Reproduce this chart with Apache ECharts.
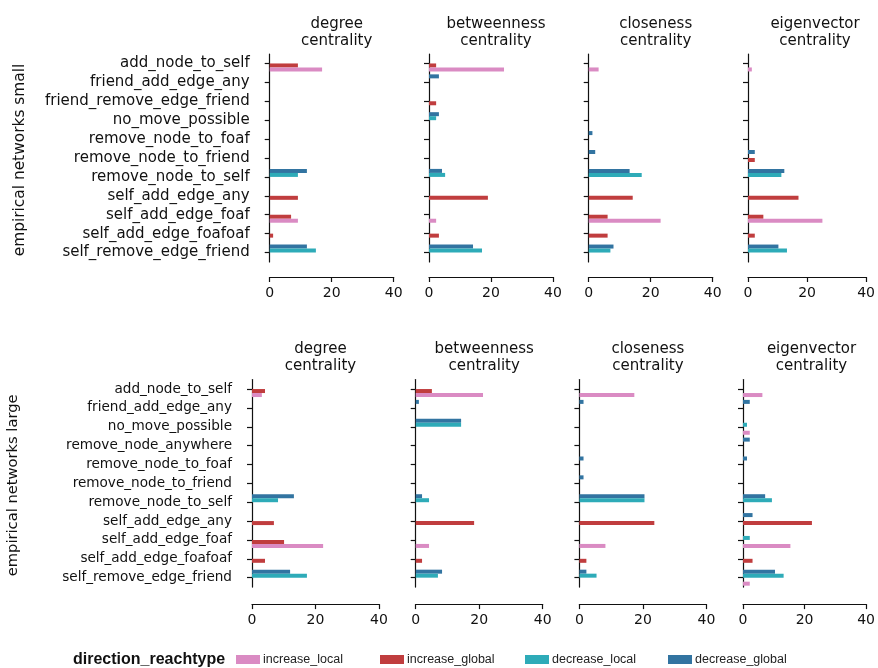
<!DOCTYPE html>
<html>
<head>
<meta charset="utf-8">
<script src="https://cdn.jsdelivr.net/npm/echarts@6/dist/echarts.min.js"></script>
<style>
  html, body { margin: 0; padding: 0; background: #fff; }
  #chart { width: 878px; height: 668px; }
</style>
</head>
<body>
<div id="chart"></div>
<script>
const measures = ["degree\ncentrality", "betweenness\ncentrality", "closeness\ncentrality", "eigenvector\ncentrality"];
const directions = ["increase_local", "increase_global", "decrease_local", "decrease_global"];
const colors = ["#da8bc3", "#c03d3e", "#2eabb8", "#3274a1"];
const xTicks = [0, 20, 40];

const catsSmall = ["add_node_to_self", "friend_add_edge_any", "friend_remove_edge_friend", "no_move_possible",
  "remove_node_to_foaf", "remove_node_to_friend", "remove_node_to_self", "self_add_edge_any",
  "self_add_edge_foaf", "self_add_edge_foafoaf", "self_remove_edge_friend"];
const catsLarge = ["add_node_to_self", "friend_add_edge_any", "no_move_possible", "remove_node_anywhere",
  "remove_node_to_foaf", "remove_node_to_friend", "remove_node_to_self", "self_add_edge_any",
  "self_add_edge_foaf", "self_add_edge_foafoaf", "self_remove_edge_friend"];

// one inner list per measure (degree, betweenness, closeness, eigenvector)
const smallIncLocal = [
  [16.9, 0, 0, 0, 0, 0, 0, 0, 9.1, 0, 0],
  [24.2, 0, 0, 0, 0, 0, 0, 0, 2.3, 0, 0],
  [3.2, 0, 0, 0, 0, 0, 0, 0, 23.2, 0, 0],
  [1.3, 0, 0, 0, 0, 0, 0, 0, 25.2, 0, 0]
];
const smallIncGlobal = [
  [9.1, 0, 0, 0, 0, 0, 0, 9.1, 6.9, 1.1, 0],
  [2.3, 0, 2.3, 0, 0, 0, 0, 19.0, 0, 3.2, 0],
  [0, 0, 0, 0, 0, 0, 0, 14.2, 6.1, 6.1, 0],
  [0, 0, 0, 0, 0, 2.3, 0, 17.1, 5.2, 2.3, 0]
];
const smallDecLocal = [
  [0, 0, 0, 0, 0, 0, 9.1, 0, 0, 0, 14.9],
  [0, 0, 0, 2.3, 0, 0, 5.2, 0, 0, 0, 17.1],
  [0, 0, 0, 0, 0, 0, 17.1, 0, 0, 0, 7.0],
  [0, 0, 0, 0, 0, 0, 11.3, 0, 0, 0, 13.2]
];
const smallDecGlobal = [
  [0, 0, 0, 0, 0, 0, 12.0, 0, 0, 0, 12.0],
  [0, 3.2, 0, 3.2, 0, 0, 4.2, 0, 0, 0, 14.2],
  [0, 0, 0, 0, 1.2, 2.1, 13.2, 0, 0, 0, 8.0],
  [0, 0, 0, 0, 0, 2.3, 12.3, 0, 0, 0, 10.3]
];

const largeIncLocal = [
  [3.1, 0, 0, 0, 0, 0, 0, 0, 22.4, 0, 0],
  [21.2, 0, 0, 0, 0, 0, 0, 0, 4.2, 0, 0],
  [17.3, 0, 0, 0, 0, 0, 0, 0, 8.2, 0, 0],
  [6.3, 0, 2.2, 0, 0, 0, 0, 0, 15.4, 0, 2.2]
];
const largeIncGlobal = [
  [4.1, 0, 0, 0, 0, 0, 0, 6.9, 10.1, 4.1, 0],
  [5.1, 0, 0, 0, 0, 0, 0, 18.4, 0, 2.0, 0],
  [0, 0, 0, 0, 0, 0, 0, 23.6, 0, 2.2, 0],
  [0, 0, 0, 0, 0, 0, 0, 22.4, 0, 3.1, 0]
];
const largeDecLocal = [
  [0, 0, 0, 0, 0, 0, 8.2, 0, 0, 0, 17.3],
  [0, 0, 14.3, 0, 0, 0, 4.2, 0, 0, 0, 7.0],
  [0, 0, 0, 0, 0, 0, 20.5, 0, 0, 0, 5.4],
  [0, 0, 1.3, 0, 0, 0, 9.4, 0, 2.2, 0, 13.2]
];
const largeDecGlobal = [
  [0, 0, 0, 0, 0, 0, 13.2, 0, 0, 0, 12.0],
  [0, 1.0, 14.3, 0, 0, 0, 2.0, 0, 0, 0, 8.3],
  [0, 1.3, 0, 0, 1.3, 1.3, 20.5, 0, 0, 0, 2.2],
  [0, 2.2, 0, 2.2, 1.3, 0, 7.2, 3.1, 0, 0, 10.4]
];

const chart = echarts.init(document.getElementById("chart"));
const font = "DejaVu Sans";

// panel geometry: x pixel of value 0, pixel width of 0..40
const rows = [
  { cats: catsSmall, label: "empirical networks small", zeros: [269.7, 429, 588.7, 748], width: 124,
    top: 54, height: 208, labelSize: 15, rowLabelSize: 15.4, titleTop: 10, labelX: 20, xOffset: 15,
    data: [smallIncLocal, smallIncGlobal, smallDecLocal, smallDecGlobal] },
  { cats: catsLarge, label: "empirical networks large", zeros: [252, 415.7, 579.4, 743], width: 127,
    top: 379.6, height: 207.5, labelSize: 13.6, rowLabelSize: 14.7, titleTop: 335, labelX: 13, xOffset: 17,
    data: [largeIncLocal, largeIncGlobal, largeDecLocal, largeDecGlobal] }
];

const grid = [], xAxis = [], yAxis = [], series = [], title = [], graphic = [];
// drawn top-to-bottom within each category
const drawOrder = [3, 2, 1, 0];

rows.forEach((row, r) => {
  graphic.push({
    type: "text",
    rotation: Math.PI / 2,
    x: row.labelX, y: row.top + row.height / 2 + 2,
    style: { text: row.label, font: row.rowLabelSize + "px " + font, fill: "#111",
      textAlign: "center", textVerticalAlign: "middle" }
  });
  measures.forEach((m, c) => {
    const idx = grid.length;
    grid.push({ left: row.zeros[c], width: row.width, top: row.top, height: row.height });
    title.push({
      text: m, left: row.zeros[c] + row.width / 2, top: row.titleTop, textAlign: "center",
      textStyle: { fontFamily: font, fontSize: 15, fontWeight: "normal", color: "#111", lineHeight: 17.5 }
    });
    xAxis.push({
      type: "value", gridIndex: idx, min: xTicks[0], max: xTicks[xTicks.length - 1], interval: 20,
      offset: row.xOffset,
      axisLine: { show: true, lineStyle: { color: "#111", width: 1.2 } },
      axisTick: { show: true, length: 5, lineStyle: { color: "#111", width: 1.2 } },
      axisLabel: { fontFamily: font, fontSize: 14, color: "#111", margin: 9 },
      splitLine: { show: false }
    });
    yAxis.push({
      type: "category", gridIndex: idx, data: row.cats, inverse: true, offset: 15,
      axisLine: { show: true, lineStyle: { color: "#111", width: 1.2 } },
      axisTick: { show: true, alignWithLabel: true, interval: 0, length: 5, lineStyle: { color: "#111", width: 1.2 } },
      axisLabel: { show: c === 0, interval: 0, fontFamily: font, fontSize: row.labelSize, color: "#111", margin: 5 },
      splitLine: { show: false }
    });
    drawOrder.forEach((d) => {
      series.push({
        type: "bar", name: directions[d], xAxisIndex: idx, yAxisIndex: idx,
        barWidth: 4, barGap: "0%",
        itemStyle: { color: colors[d] },
        data: row.data[d][c].map((v) => (v === 0 ? null : v)),
        silent: true
      });
    });
  });
});

graphic.push({
  type: "text", left: 73, top: 652,
  style: { text: "direction_reachtype", font: "bold 16px 'Liberation Sans', sans-serif", fill: "#111" }
});

const legendLeft = [236, 380, 525, 668];
const legend = directions.map((d, i) => ({
  data: [d], left: legendLeft[i], top: 653, padding: 0, icon: "rect", itemWidth: 24, itemHeight: 9,
  selectedMode: false,
  textStyle: { fontFamily: "'Liberation Sans', sans-serif", fontSize: 12.5, color: "#222", padding: [0, 0, 0, -2] }
}));

chart.setOption({
  animation: false,
  backgroundColor: "#fff",
  title, grid, xAxis, yAxis, series, legend, graphic
});
</script>
</body>
</html>
